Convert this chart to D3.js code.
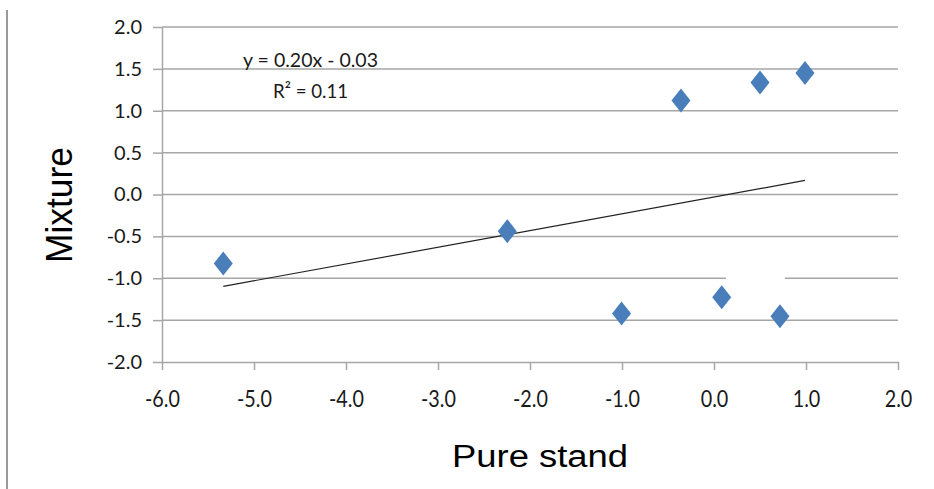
<!DOCTYPE html>
<html>
<head>
<meta charset="utf-8">
<script src="https://cdn.jsdelivr.net/npm/d3@7"></script>
<style>
  html, body { margin: 0; padding: 0; background: #fff; }
  svg { display: block; }
</style>
</head>
<body>
<svg id="chart" width="934" height="489"></svg>
<script>
// Pure-stand vs mixture scores for each stand
const pureStand = [-5.334, -2.247, -1.005, 0.084, 0.717, -0.359, 0.5, 0.989];
const mixture   = [-0.824, -0.438, -1.42, -1.226, -1.453, 1.122, 1.337, 1.45];

// Linear trend fitted to the points
const trendSlope = 0.20;
const trendIntercept = -0.03;
const trendR2 = 0.11;

const xTicks = [-6, -5, -4, -3, -2, -1, 0, 1, 2];
const yTicks = [-2, -1.5, -1, -0.5, 0, 0.5, 1, 1.5, 2];

const svg = d3.select("#chart");
const plotLeft = 162, plotRight = 898, plotTop = 27, plotBottom = 362;

const x = d3.scaleLinear().domain([-6, 2]).range([plotLeft, plotRight]);
const y = d3.scaleLinear().domain([-2, 2]).range([plotBottom, plotTop]);
// one decimal, plain hyphen for negatives
const fmt = d => (Math.abs(d) < 1e-9 ? 0 : d).toFixed(1);
const gridColor = "#a6a6a6";

// Outer frame line on the left
svg.append("line")
  .attr("x1", 7).attr("x2", 7).attr("y1", 10).attr("y2", 489)
  .attr("stroke", "#9a9a9a").attr("stroke-width", 2);

// Horizontal gridlines
svg.append("g").selectAll("line")
  .data(yTicks.filter(d => d !== -2))
  .join("line")
  .attr("x1", plotLeft).attr("x2", plotRight)
  .attr("y1", d => y(d)).attr("y2", d => y(d))
  .attr("stroke", gridColor).attr("stroke-width", 1.5);

// Blank label box sitting over the grid
svg.append("rect")
  .attr("x", x(0.13)).attr("y", y(-0.93))
  .attr("width", x(0.77) - x(0.13)).attr("height", y(-1.12) - y(-0.93))
  .attr("fill", "#fff");

// Y axis
const yAxis = svg.append("g")
  .attr("transform", `translate(${plotLeft},0)`)
  .call(d3.axisLeft(y).tickValues(yTicks).tickFormat(fmt).tickSize(9).tickSizeOuter(0).tickPadding(11));
yAxis.select(".domain").attr("stroke", gridColor).attr("stroke-width", 1.5);
yAxis.selectAll(".tick line").attr("stroke", gridColor).attr("stroke-width", 1.5);
yAxis.selectAll(".tick text")
  .attr("font-family", "Lato, 'Open Sans', sans-serif")
  .attr("font-size", 20)
  .attr("fill", "#1a1a1a");

// X axis
const xAxis = svg.append("g")
  .attr("transform", `translate(0,${plotBottom})`)
  .call(d3.axisBottom(x).tickValues(xTicks).tickFormat(fmt).tickSize(8).tickSizeOuter(0));
xAxis.select(".domain").attr("stroke", gridColor).attr("stroke-width", 1.5);
xAxis.selectAll(".tick line").attr("stroke", gridColor).attr("stroke-width", 1.5);
xAxis.selectAll(".tick text")
  .attr("font-family", "Lato, 'Open Sans', sans-serif")
  .attr("font-size", 23)
  .attr("fill", "#1a1a1a")
  .attr("y", 45).attr("dy", 0)
  .attr("transform", "scale(0.86,1)");

// Trend line across the data range
const xMin = d3.min(pureStand), xMax = d3.max(pureStand);
svg.append("line")
  .attr("x1", x(xMin)).attr("y1", y(trendSlope * xMin + trendIntercept))
  .attr("x2", x(xMax)).attr("y2", y(trendSlope * xMax + trendIntercept))
  .attr("stroke", "#222").attr("stroke-width", 1.2);

// Diamond markers
const hw = 9.5, hh = 12;
const diamond = `M0,${-hh}L${hw},0L0,${hh}L${-hw},0Z`;
svg.append("g").selectAll("path")
  .data(d3.range(pureStand.length))
  .join("path")
  .attr("d", diamond)
  .attr("transform", i => `translate(${x(pureStand[i])},${y(mixture[i])})`)
  .attr("fill", "#4a7ebb");

// Trend equation
const eq = svg.append("g")
  .attr("font-family", "Lato, 'Open Sans', sans-serif")
  .attr("font-size", 20)
  .attr("fill", "#1a1a1a")
  .attr("text-anchor", "middle");
const sign = trendIntercept < 0 ? "-" : "+";
eq.append("text")
  .attr("x", 310.5).attr("y", 67)
  .attr("textLength", 135).attr("lengthAdjust", "spacingAndGlyphs")
  .text(`y = ${trendSlope.toFixed(2)}x ${sign} ${Math.abs(trendIntercept).toFixed(2)}`);
eq.append("text")
  .attr("x", 310.5).attr("y", 98)
  .attr("textLength", 75).attr("lengthAdjust", "spacingAndGlyphs")
  .text(`R² = ${trendR2.toFixed(2)}`);

// Axis titles
svg.append("text")
  .attr("x", 540).attr("y", 467)
  .attr("text-anchor", "middle")
  .attr("font-family", "'Liberation Sans', Arial, sans-serif")
  .attr("font-size", 31)
  .attr("textLength", 176).attr("lengthAdjust", "spacingAndGlyphs")
  .attr("fill", "#000")
  .text("Pure stand");

svg.append("text")
  .attr("transform", "translate(72,205) rotate(-90)")
  .attr("text-anchor", "middle")
  .attr("font-family", "'Liberation Sans', Arial, sans-serif")
  .attr("font-size", 37)
  .attr("textLength", 116).attr("lengthAdjust", "spacingAndGlyphs")
  .attr("fill", "#000")
  .text("Mixture");
</script>
</body>
</html>
